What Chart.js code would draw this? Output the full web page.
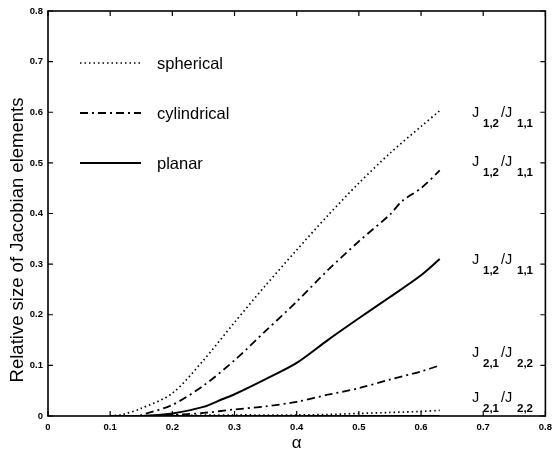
<!DOCTYPE html>
<html><head><meta charset="utf-8">
<script src="https://cdn.jsdelivr.net/npm/chart.js@4/dist/chart.umd.min.js"></script>
<style>html,body{margin:0;padding:0;background:#fff}#wrap{width:558px;height:452px}</style>
</head><body><div id="wrap"><canvas id="c" width="558" height="452"></canvas></div>
<script>
// Data
const xTicks = [0,0.1,0.2,0.3,0.4,0.5,0.6,0.7,0.8];
const yTicks = [0,0.1,0.2,0.3,0.4,0.5,0.6,0.7,0.8];

const alphaSph12 = [0.1,0.12,0.15,0.2,0.25,0.3,0.35,0.4,0.45,0.5,0.55,0.6,0.63];
const sph12      = [0,0.003,0.015,0.045,0.11,0.185,0.258,0.328,0.396,0.46,0.519,0.572,0.603];

const alphaCyl12 = [0.1,0.14,0.15,0.2,0.25,0.3,0.35,0.4,0.45,0.5,0.55,0.57,0.6,0.63];
const cyl12      = [0,0,0.002,0.022,0.06,0.11,0.168,0.226,0.288,0.345,0.398,0.425,0.45,0.485];

const alphaPla12 = [0.1,0.15,0.2,0.25,0.28,0.3,0.35,0.4,0.45,0.5,0.55,0.6,0.63];
const pla12      = [0,0,0.005,0.018,0.033,0.043,0.073,0.105,0.15,0.193,0.235,0.278,0.31];

const alphaCyl21 = [0.1,0.18,0.2,0.25,0.3,0.35,0.4,0.45,0.5,0.55,0.6,0.63];
const cyl21      = [0,0,0.002,0.006,0.013,0.019,0.028,0.042,0.055,0.072,0.088,0.1];

const alphaSph21 = [0.1,0.2,0.3,0.4,0.45,0.5,0.55,0.6,0.63];
const sph21      = [0,0.001,0.002,0.002,0.003,0.005,0.007,0.009,0.011];

const alphaPla21 = [0.14,0.63];
const pla21      = [0,0];

const legendNames = ['spherical','cylindrical','planar'];
// right-hand curve labels: subscripts and the value where each label's baseline sits
const labelNum = ['1,2','1,2','1,2','2,1','2,1'];
const labelDen = ['1,1','1,1','1,1','2,2','2,2'];
const labelAt  = [0.591,0.494,0.300,0.117,0.028];

const DOT = [1.5,3];
const DASHDOT = [8,4,2,4];
const styles = {spherical:{dash:DOT,w:1.7},cylindrical:{dash:DASHDOT,w:1.8},planar:{dash:[],w:2}};

function pts(xs, ys){ return xs.map((x,i)=>({x:x,y:ys[i]})); }
function ds(label, xs, ys, st){
  return {label:label, data:pts(xs,ys), borderColor:'#000', borderWidth:st.w, borderDash:st.dash,
          pointRadius:0, fill:false, tension:0.3, showLine:true};
}

const datasets = [
  ds('spherical J12/J11', alphaSph12, sph12, styles.spherical),
  ds('cylindrical J12/J11', alphaCyl12, cyl12, styles.cylindrical),
  ds('planar J12/J11', alphaPla12, pla12, styles.planar),
  ds('cylindrical J21/J22', alphaCyl21, cyl21, styles.cylindrical),
  ds('spherical J21/J22', alphaSph21, sph21, styles.spherical),
  ds('planar J21/J22', alphaPla21, pla21, styles.planar)
];

const FONT = '"Liberation Sans", Arial, Helvetica, sans-serif';

const decor = {
  id:'decor',
  afterDraw(chart){
    const ctx = chart.ctx, a = chart.chartArea;
    const xs = chart.scales.x, ys = chart.scales.y;
    ctx.save();
    ctx.strokeStyle='#000'; ctx.lineWidth=1.6; ctx.setLineDash([]);
    ctx.strokeRect(a.left, a.top, a.right-a.left, a.bottom-a.top);
    ctx.lineWidth=1.2;
    const L=5;
    xTicks.forEach(v=>{
      const p = xs.getPixelForValue(v);
      ctx.beginPath(); ctx.moveTo(p,a.bottom); ctx.lineTo(p,a.bottom-L);
      ctx.moveTo(p,a.top); ctx.lineTo(p,a.top+L); ctx.stroke();
    });
    yTicks.forEach(v=>{
      const p = ys.getPixelForValue(v);
      ctx.beginPath(); ctx.moveTo(a.left,p); ctx.lineTo(a.left+L,p);
      ctx.moveTo(a.right,p); ctx.lineTo(a.right-L,p); ctx.stroke();
    });
    // axis titles
    ctx.fillStyle='#000';
    ctx.font = '17px '+FONT;
    ctx.textAlign='center'; ctx.textBaseline='middle';
    ctx.fillText('\u03b1', (a.left+a.right)/2, 443);
    ctx.save();
    ctx.translate(18, 240);
    ctx.rotate(-Math.PI/2);
    ctx.font = '18.5px '+FONT;
    ctx.fillText('Relative size of Jacobian elements', 0, 0);
    ctx.restore();
    // legend
    const legY = [63,113,163];
    legendNames.forEach((n,i)=>{
      const st = styles[n];
      ctx.beginPath(); ctx.setLineDash(st.dash); ctx.lineWidth=st.w;
      ctx.moveTo(80, legY[i]); ctx.lineTo(141, legY[i]); ctx.stroke();
      ctx.setLineDash([]);
      ctx.font='16.5px '+FONT; ctx.textAlign='left'; ctx.textBaseline='middle';
      ctx.fillText(n, 157, legY[i]+1);
    });
    // right labels
    labelAt.forEach((v,i)=>{
      const y = ys.getPixelForValue(v);
      ctx.textBaseline='alphabetic'; ctx.textAlign='left';
      ctx.font='14.5px '+FONT;
      ctx.fillText('J', 472, y);
      ctx.fillText('/J', 501, y);
      ctx.font='bold 11.5px '+FONT;
      ctx.fillText(labelNum[i], 483, y+10);
      ctx.fillText(labelDen[i], 517, y+10);
    });
    ctx.restore();
  }
};

new Chart(document.getElementById('c'), {
  type:'scatter',
  data:{datasets:datasets},
  options:{
    responsive:false, animation:false,
    layout:{padding:{top:11,right:9,left:0,bottom:0}},
    plugins:{legend:{display:false},tooltip:{enabled:false}},
    scales:{
      x:{type:'linear',min:0,max:0.8,
         afterBuildTicks(s){ s.ticks = xTicks.map(v=>({value:v})); },
         afterFit(s){ s.height = 36; },
         grid:{display:false,drawTicks:false}, border:{display:false},
         ticks:{padding:6,color:'#000',font:{family:FONT,size:9.5,weight:'bold'},
                callback:v=> v===0?'0':v.toFixed(1)}},
      y:{type:'linear',min:0,max:0.8,
         afterBuildTicks(s){ s.ticks = yTicks.map(v=>({value:v})); },
         afterFit(s){ s.width = 48; },
         grid:{display:false,drawTicks:false}, border:{display:false},
         ticks:{padding:5,color:'#000',font:{family:FONT,size:9.5,weight:'bold'},
                callback:v=> v===0?'0':v.toFixed(1)}}
    }
  },
  plugins:[decor]
});
</script></body></html>
